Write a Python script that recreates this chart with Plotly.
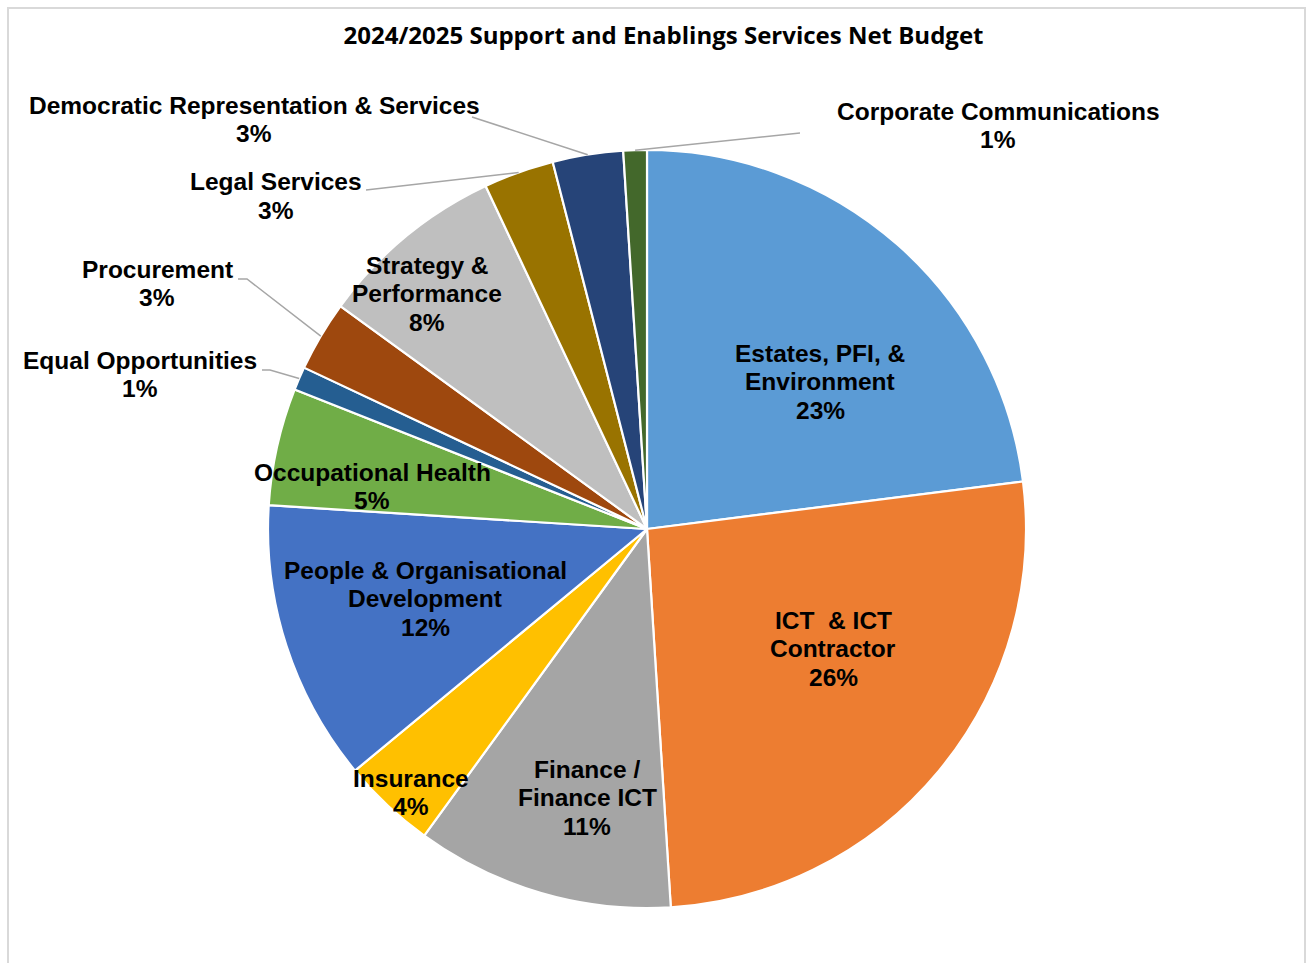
import math
import plotly.graph_objects as go

W, H = 1309, 963

# Budget categories (clockwise from 12 o'clock); "\n" marks where a label wraps
categories = [
    "Estates, PFI, &\nEnvironment",
    "ICT  & ICT\nContractor",
    "Finance /\nFinance ICT",
    "Insurance",
    "People & Organisational\nDevelopment",
    "Occupational Health",
    "Equal Opportunities",
    "Procurement",
    "Strategy &\nPerformance",
    "Legal Services",
    "Democratic Representation & Services",
    "Corporate Communications",
]
shares = [23, 26, 11, 4, 12, 5, 1, 3, 8, 3, 3, 1]
colors = [
    "#5B9BD5", "#ED7D31", "#A5A5A5", "#FFC000", "#4472C4", "#70AD47",
    "#255E91", "#9E480E", "#BFBFBF", "#997300", "#264478", "#43682B",
]

title_text = "2024/2025 Support and Enablings Services Net Budget"

# Pie geometry in pixels
CX, CY, R = 647, 529, 379

# Label placement: centre x and first-line centre y (pixels)
label_pos = {
    0: (820, 353),
    1: (833, 620),
    2: (587, 769),
    3: (411, 778),
    4: (425, 570),
    5: (372, 472),
    6: (140, 360),
    7: (157, 269),
    8: (427, 265),
    9: (276, 182),
    10: (254, 105),
    11: (998, 111),
}
LINE_STEP = 28.7

# Leader lines for small outside labels: start point and optional horizontal run
leaders = {
    6: (262, 370, 8),
    7: (238, 279, 9),
    9: (366, 190, 0),
    10: (472, 117, 0),
    11: (800, 133, 0),
}


def px(x):
    return x / W


def py(y):
    return 1 - y / H


total = sum(shares)

fig = go.Figure(
    go.Pie(
        labels=[c.replace("\n", " ") for c in categories],
        values=shares,
        sort=False,
        direction="clockwise",
        rotation=0,
        marker=dict(colors=colors, line=dict(color="white", width=2.2)),
        textinfo="none",
        hovertemplate="%{label}<br>%{percent:.0%}<extra></extra>",
        showlegend=False,
        domain=dict(
            x=[(CX - R) / W, (CX + R) / W],
            y=[1 - (CY + R) / H, 1 - (CY - R) / H],
        ),
    )
)

annotations = []
shapes = []

# Chart area border
shapes.append(dict(
    type="rect", xref="paper", yref="paper",
    x0=px(8), x1=px(1305), y0=py(975), y1=py(8),
    line=dict(color="#D9D9D9", width=2), fillcolor="rgba(0,0,0,0)", layer="below",
))

# Slice labels: name lines plus percentage
cum = 0.0
for i, (name, v) in enumerate(zip(categories, shares)):
    mid = (cum + v / 2) / total * 2 * math.pi
    cum += v
    lines = name.split("\n") + [f"{v / total:.0%}"]
    x0, y0 = label_pos[i]
    for k, line in enumerate(lines):
        annotations.append(dict(
            text=f"<b>{line}</b>", x=px(x0), y=py(y0 + k * LINE_STEP),
            xref="paper", yref="paper", xanchor="center", yanchor="middle",
            showarrow=False,
            font=dict(family="Liberation Sans, Arial", size=24.5, color="#000000"),
        ))
    if i in leaders:
        sx, sy, run = leaders[i]
        tx = CX + R * math.sin(mid)
        ty = CY - R * math.cos(mid)
        kx = sx + (run if tx > sx else -run)
        path = f"M {px(sx)},{py(sy)} L {px(kx)},{py(sy)} L {px(tx)},{py(ty)}"
        shapes.append(dict(
            type="path", xref="paper", yref="paper", path=path,
            line=dict(color="#A6A6A6", width=1.5), layer="above",
        ))

fig.update_layout(
    width=W, height=H,
    margin=dict(l=0, r=0, t=0, b=0),
    paper_bgcolor="white",
    title=dict(
        text=f"<b>{title_text}</b>",
        x=663.5 / W, xanchor="center", xref="container",
        y=1 - 36 / H, yanchor="middle", yref="container",
        font=dict(family="Open Sans, Noto Sans", size=24, color="#000000"),
    ),
    annotations=annotations,
    shapes=shapes,
)

fig.write_html("out.html")
